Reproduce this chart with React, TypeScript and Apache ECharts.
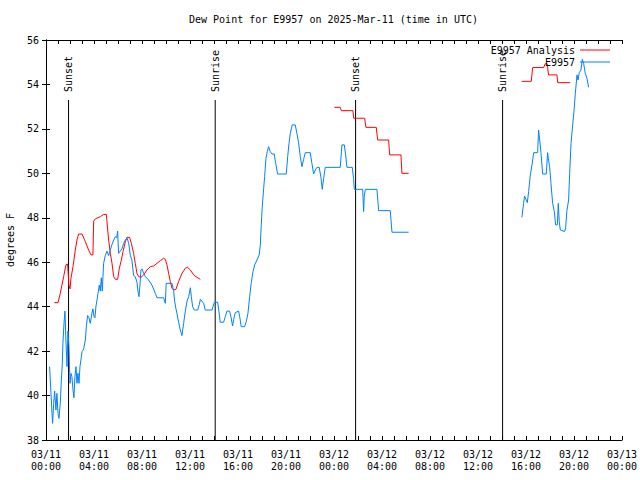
import { useEffect, useRef } from 'react';
import * as echarts from 'echarts';

const FONT = '"DejaVu Sans Mono", "Liberation Mono", monospace';

// time in hours since 2025-03-11 00:00 UTC, dew point in °F
const analysisData: [number, number | null][] = [
  [0.69, 44.18], [1.0, 44.18], [1.19, 44.6], [1.47, 45.35], [1.66, 45.88], [1.8, 45.92], [1.91, 44.97], [2.0, 44.8],
  [2.08, 45.28], [2.25, 45.8], [2.44, 46.55], [2.58, 47.0], [2.72, 47.27], [3.0, 47.27], [3.28, 46.92], [3.55, 46.55],
  [3.75, 46.33], [3.91, 46.33], [3.97, 47.85], [4.11, 47.95], [4.53, 48.05], [4.8, 48.15], [5.03, 48.15], [5.14, 47.45],
  [5.22, 47.0], [5.36, 46.4], [5.5, 45.95], [5.64, 45.35], [5.78, 45.23], [5.97, 45.23], [6.11, 45.73], [6.25, 46.03],
  [6.42, 46.48], [6.61, 46.92], [6.75, 47.12], [6.97, 47.12], [7.11, 46.85], [7.3, 46.4], [7.44, 45.95], [7.58, 45.5],
  [7.72, 45.35], [7.91, 45.32], [8.14, 45.43], [8.41, 45.65], [8.69, 45.8], [8.97, 45.83], [9.25, 45.95], [9.53, 46.07],
  [9.8, 46.18], [9.94, 46.13], [10.08, 45.88], [10.22, 45.5], [10.36, 45.13], [10.5, 44.83], [10.64, 44.75], [10.83, 44.78],
  [11.05, 45.13], [11.33, 45.5], [11.61, 45.73], [11.8, 45.77], [12.03, 45.65], [12.3, 45.43], [12.58, 45.32], [12.86, 45.23],
  [18.0, null],
  [24.03, 52.97], [24.52, 52.97], [24.61, 52.82], [25.58, 52.82], [25.64, 52.48], [26.55, 52.48], [26.66, 52.07], [27.52, 52.07],
  [27.64, 51.5], [28.55, 51.5], [28.64, 50.83], [29.58, 50.83], [29.66, 50.0], [30.22, 50.0],
  [35.0, null],
  [39.64, 54.14], [40.44, 54.14], [40.55, 54.76], [41.47, 54.76], [41.6, 54.93], [41.75, 54.93], [41.8, 54.76], [41.88, 54.43],
  [42.58, 54.43], [42.64, 54.08], [43.69, 54.08],
];

const observedData: [number, number | null][] = [
  [0.3, 41.3], [0.5, 39.2], [0.55, 38.75], [0.64, 39.65], [0.72, 40.2], [0.83, 39.35], [0.91, 40.1], [1.0, 39.2],
  [1.08, 38.97], [1.19, 39.65], [1.28, 40.7], [1.36, 41.45], [1.41, 42.35], [1.5, 43.25], [1.58, 43.8], [1.66, 42.5],
  [1.75, 41.3], [1.83, 42.9], [1.91, 42.2], [2.0, 40.55], [2.08, 41.0], [2.16, 40.85], [2.25, 40.25], [2.33, 39.9],
  [2.41, 40.85], [2.5, 41.3], [2.58, 40.55], [2.66, 41.0], [2.75, 40.55], [2.83, 41.3], [2.91, 41.6], [3.0, 41.97],
  [3.14, 42.1], [3.28, 42.5], [3.36, 43.1], [3.47, 43.6], [3.58, 43.5], [3.69, 43.25], [3.83, 43.7], [3.91, 43.9],
  [4.0, 43.55], [4.08, 43.5], [4.16, 44.0], [4.25, 44.3], [4.33, 44.6], [4.44, 44.97], [4.52, 44.7], [4.61, 45.3],
  [4.69, 44.7], [4.8, 45.95], [4.94, 46.3], [5.08, 46.5], [5.22, 46.3], [5.36, 46.55], [5.5, 46.8], [5.64, 47.0],
  [5.78, 47.15], [5.89, 47.1], [5.97, 47.4], [6.05, 46.4], [6.19, 46.5], [6.33, 46.6], [6.47, 46.85], [6.61, 47.0],
  [6.75, 47.1], [6.89, 46.85], [7.03, 46.3], [7.16, 46.1], [7.3, 45.4], [7.44, 45.35], [7.58, 45.1], [7.66, 44.7],
  [7.75, 44.45], [7.83, 44.97], [7.91, 45.65], [8.0, 45.7], [8.14, 45.5], [8.28, 45.35], [8.55, 45.2], [8.83, 44.97],
  [9.11, 44.6], [9.25, 44.4], [9.8, 44.4], [9.94, 44.15], [10.02, 45.05], [10.5, 45.05], [10.64, 44.7], [10.72, 44.25],
  [10.83, 43.9], [10.91, 43.7], [11.05, 43.3], [11.19, 42.95], [11.33, 42.7], [11.47, 43.25], [11.61, 43.8], [11.75, 44.25],
  [11.89, 44.45], [12.03, 44.85], [12.11, 44.45], [12.22, 44.0], [12.36, 43.85], [12.64, 43.85], [12.78, 44.1], [12.86, 44.33],
  [13.14, 44.15], [13.27, 43.85], [13.83, 43.85], [14.03, 44.2], [14.3, 44.2], [14.41, 43.8], [14.52, 43.3], [14.8, 43.3],
  [14.94, 43.55], [15.08, 43.8], [15.3, 43.8], [15.41, 43.55], [15.55, 43.13], [15.64, 43.43], [15.77, 43.73], [16.05, 43.8],
  [16.14, 43.55], [16.27, 43.1], [16.55, 43.1], [16.69, 43.33], [16.83, 43.7], [16.97, 44.45], [17.11, 45.1], [17.25, 45.58],
  [17.39, 45.88], [17.58, 46.1], [17.77, 46.33], [17.86, 46.78], [17.94, 47.68], [18.02, 48.5], [18.14, 49.33], [18.22, 49.85],
  [18.33, 50.68], [18.44, 50.98], [18.55, 51.2], [18.69, 50.98], [18.83, 50.87], [19.02, 50.87], [19.14, 50.45], [19.3, 49.97],
  [20.02, 49.97], [20.14, 50.75], [20.25, 51.35], [20.36, 51.8], [20.52, 52.18], [20.77, 52.18], [20.91, 51.8], [21.05, 51.38],
  [21.19, 50.75], [21.33, 50.3], [21.47, 50.63], [21.61, 50.93], [22.02, 50.93], [22.16, 50.45], [22.3, 49.97], [22.44, 50.15],
  [22.58, 50.27], [22.77, 50.27], [22.91, 49.82], [23.02, 49.28], [23.14, 49.78], [23.27, 50.27], [24.52, 50.27], [24.66, 51.28],
  [24.86, 51.28], [24.97, 50.83], [25.08, 50.27], [25.52, 50.27], [25.63, 49.78], [25.69, 49.28], [26.39, 49.28], [26.47, 48.28],
  [26.52, 48.95], [26.61, 49.28], [27.58, 49.28], [27.72, 48.32], [28.69, 48.32], [28.83, 47.35], [30.22, 47.35],
  [35.0, null],
  [39.66, 48.02], [39.8, 48.65], [39.88, 48.98], [40.02, 48.8], [40.11, 48.68], [40.22, 49.18], [40.36, 49.93], [40.5, 50.38],
  [40.64, 50.93], [40.97, 50.93], [41.05, 51.95], [41.14, 51.5], [41.25, 50.9], [41.39, 49.97], [41.69, 49.97], [41.8, 50.93],
  [41.86, 50.68], [41.97, 50.3], [42.08, 49.55], [42.22, 48.65], [42.36, 48.28], [42.47, 47.68], [42.61, 47.68], [42.69, 48.65],
  [42.77, 47.83], [42.86, 47.45], [43.22, 47.38], [43.3, 47.53], [43.41, 48.32], [43.55, 48.8], [43.64, 50.0], [43.75, 51.35],
  [43.89, 52.18], [44.02, 52.93], [44.11, 53.6], [44.25, 54.43], [44.33, 54.2], [44.44, 54.53], [44.58, 54.65], [44.69, 55.13],
  [44.8, 54.95], [44.94, 54.5], [45.08, 54.28], [45.22, 53.87],
];

const sunHours = [1.88, 14.1, 25.8, 38.05];
const sunLabels = ['Sunset', 'Sunrise', 'Sunset', 'Sunrise'];
const sunLineTop = 53.3;

const seriesNames = ['E9957 Analysis', 'E9957'];
const seriesColors = ['#ff0000', '#0080ff'];

const xLabel = (v: number) => {
  const day = 11 + Math.floor(v / 24);
  const hr = Math.round(v % 24);
  return `03/${String(day).padStart(2, '0')}\n${String(hr).padStart(2, '0')}:00`;
};

export default function App() {
  const ref = useRef<HTMLDivElement>(null);
  useEffect(() => {
    const chart = echarts.init(ref.current!, null, { renderer: 'svg' });
    const tick = { show: true, inside: true, length: 4, lineStyle: { color: '#000', width: 1 } };
    const minor = { show: true, splitNumber: 4, length: 4, lineStyle: { color: '#000', width: 1 } };
    const axisLine = { show: true, lineStyle: { color: '#000', width: 1 } };
    chart.setOption({
      animation: false,
      backgroundColor: '#fff',
      title: {
        text: 'Dew Point for E9957 on 2025-Mar-11 (time in UTC)',
        left: 184,
        top: 9,
        textStyle: { fontFamily: FONT, fontSize: 10, fontWeight: 'normal', color: '#000' },
      },
      legend: {
        data: seriesNames.map((n, i) => ({ name: n, itemStyle: { color: seriesColors[i] } })),
        orient: 'vertical',
        align: 'right',
        icon: 'rect',
        right: 25,
        top: 39,
        itemWidth: 30,
        itemHeight: 1,
        itemGap: 0,
        textStyle: { fontFamily: FONT, fontSize: 10, color: '#000', lineHeight: 12 },
      },
      grid: { left: 46, right: 18, top: 40, bottom: 40, outerBoundsMode: 'none', containLabel: false },
      xAxis: [
        {
          type: 'value', position: 'bottom', min: 0, max: 48, interval: 4,
          axisLine, axisTick: tick, minorTick: minor, splitLine: { show: false },
          axisLabel: {
            formatter: xLabel, fontFamily: FONT, fontSize: 10, color: '#000', margin: 8, lineHeight: 12,
            showMinLabel: true, showMaxLabel: true,
          },
        },
        {
          type: 'value', position: 'top', min: 0, max: 48, interval: 4,
          axisLine, axisTick: tick, minorTick: minor, splitLine: { show: false },
          axisLabel: { show: false },
        },
      ],
      yAxis: [
        {
          type: 'value', position: 'left', min: 38, max: 56, interval: 2,
          axisLine, axisTick: tick, splitLine: { show: false },
          axisLabel: { fontFamily: FONT, fontSize: 10, color: '#000', margin: 7 },
          name: 'degrees F', nameLocation: 'middle', nameGap: 31, nameRotate: 90,
          nameTextStyle: { fontFamily: FONT, fontSize: 10, color: '#000' },
        },
        {
          type: 'value', position: 'right', min: 38, max: 56, interval: 2,
          axisLine, axisTick: tick, splitLine: { show: false },
          axisLabel: { show: false },
        },
      ],
      series: [
        {
          type: 'custom',
          coordinateSystem: 'cartesian2d',
          xAxisIndex: 0, yAxisIndex: 0,
          data: sunHours.map((h) => [h, sunLineTop]),
          renderItem: (params: any, api: any) => {
            const h = api.value(0);
            const bottom = api.coord([h, 38]);
            const top = api.coord([h, api.value(1)]);
            return {
              type: 'group',
              children: [
                {
                  type: 'line',
                  shape: { x1: bottom[0], y1: bottom[1], x2: top[0], y2: top[1] },
                  style: { stroke: '#000', lineWidth: 1 },
                },
                {
                  type: 'text',
                  x: top[0],
                  y: top[1] - 8,
                  rotation: Math.PI / 2,
                  style: {
                    text: sunLabels[params.dataIndex],
                    font: `10px ${FONT}`,
                    fill: '#000',
                    align: 'left',
                    verticalAlign: 'middle',
                  },
                },
              ],
            };
          },
          z: 1,
        },
        {
          name: seriesNames[0], type: 'line', data: analysisData, symbol: 'none', connectNulls: false,
          lineStyle: { color: seriesColors[0], width: 1 }, itemStyle: { color: seriesColors[0] }, z: 2,
        },
        {
          name: seriesNames[1], type: 'line', data: observedData, symbol: 'none', connectNulls: false,
          lineStyle: { color: seriesColors[1], width: 1 }, itemStyle: { color: seriesColors[1] }, z: 3,
        },
      ],
    });
    return () => chart.dispose();
  }, []);
  return <div ref={ref} style={{ position: 'fixed', left: 0, top: 0, width: 640, height: 480 }} />;
}
